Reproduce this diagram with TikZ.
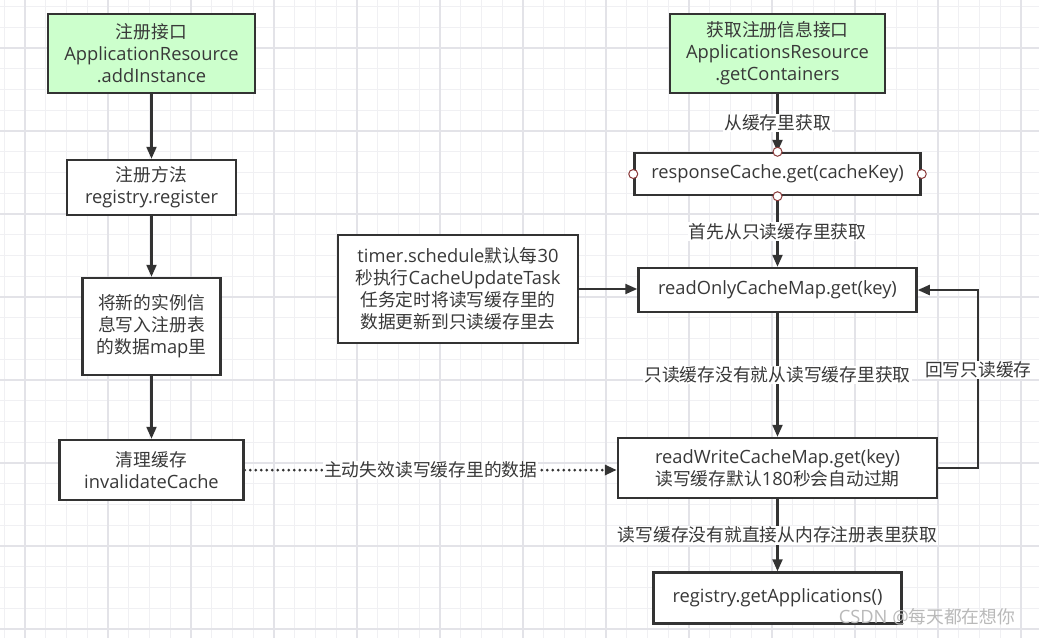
\documentclass[tikz,border=0pt]{standalone}
\usepackage{fontspec}
\setmainfont{Open Sans}
\newfontfamily\cjk[Scale=0.97]{Noto Sans CJK SC}
\newcommand\zh[1]{{\cjk #1}}
\usetikzlibrary{arrows.meta}
\definecolor{boxline}{HTML}{333333}
\definecolor{txt}{HTML}{383838}
\definecolor{boxgreen}{HTML}{CCFFCC}
\definecolor{gridminor}{HTML}{F0F0F3}
\definecolor{gridmajor}{HTML}{E3E3E8}
\definecolor{circred}{HTML}{8B3A3A}
\newcommand\fsz{\fontsize{18.3}{22}\selectfont}
\begin{document}
\begin{tikzpicture}[x=1pt,y=-1pt,
 box/.style={draw=boxline, line width=2.5pt, fill=white, align=center, text=txt, inner sep=0pt, font=\fsz},
 greenbox/.style={box, fill=boxgreen},
 arr/.style={line width=2.2pt, draw=boxline, -{Triangle[length=12pt,width=10pt]}},
 dotarr/.style={line width=3pt, draw=boxline, line cap=round, dash pattern=on 0pt off 5.5pt, -{Triangle[length=12pt,width=10pt]}},
 lbl/.style={fill=white, text=txt, inner sep=1pt, font=\fsz},
]
\useasboundingbox (0,0) rectangle (1039,638);
\fill[white] (0,0) rectangle (1039,638);
% grid
\foreach \k in {0,...,50} {
  \pgfmathsetmacro{\gx}{4.25+20.75*\k}
  \draw[gridminor, line width=1.2pt] (\gx,0) -- (\gx,638);
}
\foreach \k in {0,...,31} {
  \pgfmathsetmacro{\gy}{6.5+20.75*\k}
  \draw[gridminor, line width=1.2pt] (0,\gy) -- (1039,\gy);
}
\foreach \k in {0,...,12} {
  \pgfmathsetmacro{\gx}{25+83*\k}
  \draw[gridmajor, line width=1.4pt] (\gx,0) -- (\gx,638);
}
\foreach \k in {0,...,7} {
  \pgfmathsetmacro{\gy}{48+83*\k}
  \draw[gridmajor, line width=1.4pt] (0,\gy) -- (1039,\gy);
}
% left column
\node[greenbox, minimum width=207, minimum height=79] (add) at (151.5,53.5) {\zh{注册接口}\\ApplicationResource\\.addInstance};
\node[box, minimum width=169, minimum height=55] (reg) at (151.5,187.5) {\zh{注册方法}\\registry.register};
\node[box, minimum width=138, minimum height=97] (write) at (151.5,326.5) {\zh{将新的实例信}\\\zh{息写入注册表}\\\zh{的数据}map\zh{里}};
\node[box, minimum width=184, minimum height=60] (inval) at (151.5,470) {\zh{清理缓存}\\invalidateCache};
% right column
\node[greenbox, minimum width=215, minimum height=79] (getc) at (777.5,53.5) {\zh{获取注册信息接口}\\ApplicationsResource\\.getContainers};
\node[box, minimum width=286, minimum height=42] (resp) at (777.5,174) {responseCache.get(cacheKey)};
\node[box, minimum width=278, minimum height=44] (ro) at (777.5,290) {readOnlyCacheMap.get(key)};
\node[box, minimum width=240, minimum height=108] (timer) at (458,289) {timer.schedule\zh{默认每}30\\\zh{秒执行}CacheUpdateTask\\\zh{任务定时将读写缓存里的}\\\zh{数据更新到只读缓存里去}};
\node[box, minimum width=319, minimum height=60] (rw) at (777.5,468) {readWriteCacheMap.get(key)\\\zh{读写缓存默认}180\zh{秒会自动过期}};
\node[box, minimum width=248, minimum height=51] (ga) at (777.5,598) {registry.getApplications()};
% connectors left
\draw[arr] (add.south) -- (reg.north);
\draw[arr] (reg.south) -- (write.north);
\draw[arr] (write.south) -- (inval.north);
% connectors right
\draw[arr] (getc.south) -- node[lbl]{\zh{从缓存里获取}} (resp.north);
\draw[arr] (resp.south) -- node[lbl]{\zh{首先从只读缓存里获取}} (ro.north);
\draw[arr] (ro.south) -- node[lbl]{\zh{只读缓存没有就从读写缓存里获取}} (rw.north);
\draw[arr] (rw.south) -- node[lbl]{\zh{读写缓存没有就直接从内存注册表里获取}} (ga.north);
\draw[arr] (timer.east) -- (timer.east -| ro.west);
\draw[arr] (rw.east) -- ++(40,0) |- node[lbl, pos=0.275]{\zh{回写只读缓存}} (ro.east);
\draw[dotarr] (inval.east) -- node[lbl]{\zh{主动失效读写缓存里的数据}} (inval.east -| rw.west);
% connection points on responseCache box
\foreach \a in {north,south,east,west}
  \draw[fill=white, draw=circred, line width=1pt] (resp.\a) circle (4.5);
% watermark
\node[text=gray!55, font=\fsz, anchor=center] (wm) at (927,617) {CSDN @\zh{每天都在想你}};
\end{tikzpicture}
\end{document}
